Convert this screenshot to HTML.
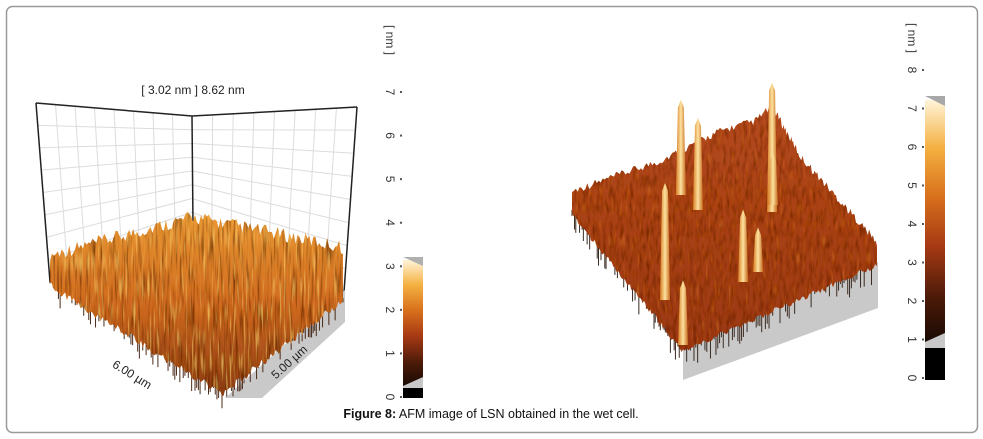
<!DOCTYPE html>
<html><head><meta charset="utf-8"><style>
html,body{margin:0;padding:0;background:#fff;}
svg{display:block;font-family:"Liberation Sans",Arial,sans-serif;}
</style></head><body>
<svg id="fig" width="983" height="439" viewBox="0 0 983 439">
<defs>
  <linearGradient id="cbar" x1="0" y1="1" x2="0" y2="0">
    <stop offset="0" stop-color="#1a0a04"/>
    <stop offset="0.18" stop-color="#4a1a08"/>
    <stop offset="0.4" stop-color="#a83a14"/>
    <stop offset="0.6" stop-color="#d8701c"/>
    <stop offset="0.8" stop-color="#f4b040"/>
    <stop offset="1" stop-color="#fff4d8"/>
  </linearGradient>
  <linearGradient id="surfL" x1="0" y1="0" x2="0" y2="1">
    <stop offset="0" stop-color="#eb9a34"/>
    <stop offset="0.5" stop-color="#d06a20"/>
    <stop offset="1" stop-color="#8a3a14"/>
  </linearGradient>
  <linearGradient id="surfR" x1="0" y1="0" x2="0" y2="1">
    <stop offset="0" stop-color="#b54a1c"/>
    <stop offset="1" stop-color="#9a3814"/>
  </linearGradient>
  <linearGradient id="spike" x1="0" y1="0" x2="1" y2="0">
    <stop offset="0" stop-color="#d87a20"/>
    <stop offset="0.5" stop-color="#fce2a0"/>
    <stop offset="1" stop-color="#c86a1c"/>
  </linearGradient>
  <filter id="roughL" x="0" y="0" width="100%" height="100%">
    <feTurbulence type="fractalNoise" baseFrequency="0.45 0.03" numOctaves="2" seed="3" result="n"/>
    <feColorMatrix in="n" type="matrix" values="0 0 0 0 0  0 0 0 0 0  0 0 0 0 0  0 0 0 2.2 -1.0" result="a"/>
    <feFlood flood-color="#5a1c06" result="d"/>
    <feComposite in="d" in2="a" operator="in" result="dk"/>
    <feComposite in="dk" in2="SourceGraphic" operator="in" result="dk2"/>
    <feTurbulence type="fractalNoise" baseFrequency="0.5 0.04" numOctaves="1" seed="9" result="n2"/>
    <feColorMatrix in="n2" type="matrix" values="0 0 0 0 0  0 0 0 0 0  0 0 0 0 0  0 0 0 2.4 -1.3" result="a2"/>
    <feFlood flood-color="#f8c860" result="l"/>
    <feComposite in="l" in2="a2" operator="in" result="lt"/>
    <feComposite in="lt" in2="SourceGraphic" operator="in" result="lt2"/>
    <feMerge><feMergeNode in="SourceGraphic"/><feMergeNode in="dk2"/><feMergeNode in="lt2"/></feMerge>
  </filter>
  <filter id="roughR" x="0" y="0" width="100%" height="100%">
    <feTurbulence type="fractalNoise" baseFrequency="0.3 0.08" numOctaves="2" seed="5" result="n"/>
    <feColorMatrix in="n" type="matrix" values="0 0 0 0 0  0 0 0 0 0  0 0 0 0 0  0 0 0 1.8 -0.8" result="a"/>
    <feFlood flood-color="#6a2008" result="d"/>
    <feComposite in="d" in2="a" operator="in" result="dk"/>
    <feComposite in="dk" in2="SourceGraphic" operator="in" result="dk2"/>
    <feTurbulence type="fractalNoise" baseFrequency="0.35 0.06" numOctaves="1" seed="11" result="n2"/>
    <feColorMatrix in="n2" type="matrix" values="0 0 0 0 0  0 0 0 0 0  0 0 0 0 0  0 0 0 2.0 -1.2" result="a2"/>
    <feFlood flood-color="#d8702a" result="l"/>
    <feComposite in="l" in2="a2" operator="in" result="lt"/>
    <feComposite in="lt" in2="SourceGraphic" operator="in" result="lt2"/>
    <feMerge><feMergeNode in="SourceGraphic"/><feMergeNode in="dk2"/><feMergeNode in="lt2"/></feMerge>
  </filter>
</defs>
<rect x="6.5" y="6.5" width="971" height="426" rx="6" fill="#fff" stroke="#9a9a9a" stroke-width="1.5"/>

<g>
  <g id="gridL" stroke="#dcdcdc" stroke-width="1" fill="none"></g>
  <polyline points="36,103 192,116 357,107" fill="none" stroke="#222" stroke-width="1.5"/>
  <line x1="36" y1="103" x2="50" y2="282" stroke="#222" stroke-width="1.5"/>
  <line x1="192" y1="116" x2="193" y2="226" stroke="#222" stroke-width="1.5"/>
  <line x1="357" y1="107" x2="344" y2="292" stroke="#222" stroke-width="1.5"/>
  <polygon points="225,398 262,398 345,322 345,290" fill="#c9c9c9"/>
  <g id="dripsL" stroke="#4a2a1a" stroke-width="1"></g>
  <path id="surfLeft" fill="url(#surfL)" filter="url(#roughL)"/>
  <text x="193" y="94" font-size="12" text-anchor="middle" fill="#222">[ 3.02 nm ] 8.62 nm</text>
  <text transform="translate(130,378) rotate(32)" font-size="12" text-anchor="middle" fill="#222">6.00 µm</text>
  <text transform="translate(292,365) rotate(-42)" font-size="12" text-anchor="middle" fill="#222">5.00 µm</text>
</g>

<g>
  <rect x="403" y="260" width="20" height="126" fill="url(#cbar)"/>
  <polygon points="403,257 423,257 423,266" fill="#b0b0b0"/>
  <polygon points="403,386 423,377 423,388 403,388" fill="#c8c8c8"/>
  <rect x="403" y="388" width="20" height="10" fill="#000"/>
  <g id="ticksL"></g>
</g>

<g>
  <polygon points="683,345 878,262 878,308 683,380" fill="#c9c9c9"/>
  <g id="dripsR" stroke="#3a2a20" stroke-width="1"></g>
  <path id="surfRight" fill="url(#surfR)" filter="url(#roughR)"/>
  <g id="spikes"></g>
</g>

<g>
  <rect x="925" y="100" width="20" height="242" fill="url(#cbar)"/>
  <polygon points="925,96 945,96 945,106" fill="#a8a8a8"/>
  <polygon points="925,342 945,333 945,348 925,348" fill="#c8c8c8"/>
  <rect x="925" y="348" width="20" height="32" fill="#000"/>
  <g id="ticksR"></g>
</g>

<text x="491" y="418" font-size="12.5" text-anchor="middle" fill="#111"><tspan font-weight="bold">Figure 8:</tspan> AFM image of LSN obtained in the wet cell.</text>
</svg>
<script>
const ticksLeft = [0,1,2,3,4,5,6,7];
const ticksRight = [0,1,2,3,4,5,6,7,8];
// right panel spikes: x fraction across panel, base y, height in nm
const spikeX = [0.357, 0.413, 0.656, 0.305, 0.561, 0.659, 0.610, 0.364];
const spikeBase = [195, 210, 212, 300, 282, 205, 272, 345];
const spikeHeight = [6.2, 6.0, 8.4, 7.6, 4.7, 3.4, 2.9, 4.2];

const NS = 'http://www.w3.org/2000/svg';
function mk(tag, attrs, parent){const e=document.createElementNS(NS,tag);for(const k in attrs)e.setAttribute(k,attrs[k]);parent.appendChild(e);return e;}

function yL(v){return 397 - v*(397-92)/7;}
function yR(v){return 378 - v*(378-70)/8;}
function drawTicks(g, arr, yf, x, unitY){
  arr.forEach(v=>{
    const t = mk('text',{transform:`translate(${x},${yf(v)}) rotate(90)`,'font-size':'12','text-anchor':'middle',fill:'#333'},g);
    t.textContent = v;
    
    
    const d = mk('rect',{x:x+14,y:yf(v)-1,width:2,height:2,fill:'#555'},g);
    
    
  });
  const u = mk('text',{transform:`translate(${x},${unitY}) rotate(90)`,'font-size':'12','text-anchor':'middle',fill:'#333'},g);
  u.textContent='[ nm ]';
  
  
}
drawTicks(document.getElementById('ticksL'), ticksLeft, yL, 386, 40);
drawTicks(document.getElementById('ticksR'), ticksRight, yR, 908, 38);

// left grid walls
const gl = document.getElementById('gridL');
for(let i=1;i<8;i++){
  const f=i/8;
  mk('line',{x1:36+14*f,y1:103+179*f,x2:192,y2:116+110*f},gl);
  mk('line',{x1:192,y1:116+110*f,x2:357-13*f,y2:107+185*f},gl);
  mk('line',{x1:36+156*f,y1:103+13*f,x2:50+143*f,y2:282-56*f},gl);
  mk('line',{x1:192+165*f,y1:116-9*f,x2:193+151*f,y2:226+66*f},gl);
}

// decorative jagged edges (deterministic texture)
function nz(i){return Math.abs(Math.sin(i*12.9898)*43758.5453)%1;}
function jagged(pts, step, amp, dir, seed){
  const out=[];
  let k=seed;
  for(let s=0;s<pts.length-1;s++){
    const [x0,y0]=pts[s],[x1,y1]=pts[s+1];
    const n=Math.max(1,Math.round(Math.hypot(x1-x0,y1-y0)/step));
    for(let j=0;j<n;j++){
      const t=j/n; k++;
      out.push([x0+(x1-x0)*t, y0+(y1-y0)*t + dir*amp*nz(k)]);
    }
  }
  out.push(pts[pts.length-1]);
  return out;
}
function buildSurface(pathId, top, bottom, ampTop, ampBot, dripG, dripLen, seed){
  const t = jagged(top, 2, ampTop, -1, seed);
  const b = jagged(bottom, 2, ampBot, 1, seed+500);
  const all = t.concat(b);
  document.getElementById(pathId).setAttribute('d','M'+all.map(p=>p[0].toFixed(1)+','+p[1].toFixed(1)).join(' L')+' Z');
  const g=document.getElementById(dripG);
  b.forEach((p,i)=>{ if(nz(i+seed*3)>0.55){ mk('line',{x1:p[0],y1:p[1]-2,x2:p[0],y2:p[1]+dripLen*nz(i+seed*7)},g);} });
}
buildSurface('surfLeft',
  [[50,262],[193,224],[343,254]],
  [[343,296],[222,390],[50,282]], 14, 8, 'dripsL', 14, 1);
buildSurface('surfRight',
  [[572,195],[660,165],[720,135],[755,125],[772,110],[800,160],[840,205],[877,246]],
  [[877,262],[683,348],[572,212]], 8, 6, 'dripsR', 18, 3);

// spikes
const sg = document.getElementById('spikes');
const pxPerNm = (378-70)/8 * 0.4;
spikeX.forEach((fx,i)=>{
  const x = 572 + fx*(877-572);
  const b = spikeBase[i];
  const top = b - spikeHeight[i]*pxPerNm;
  const p = mk('polygon',{points:`${x-5},${b} ${x-3},${top+8} ${x},${top} ${x+3},${top+8} ${x+5},${b}`,fill:'url(#spike)'},sg);
  
  
});
</script>
</body></html>
